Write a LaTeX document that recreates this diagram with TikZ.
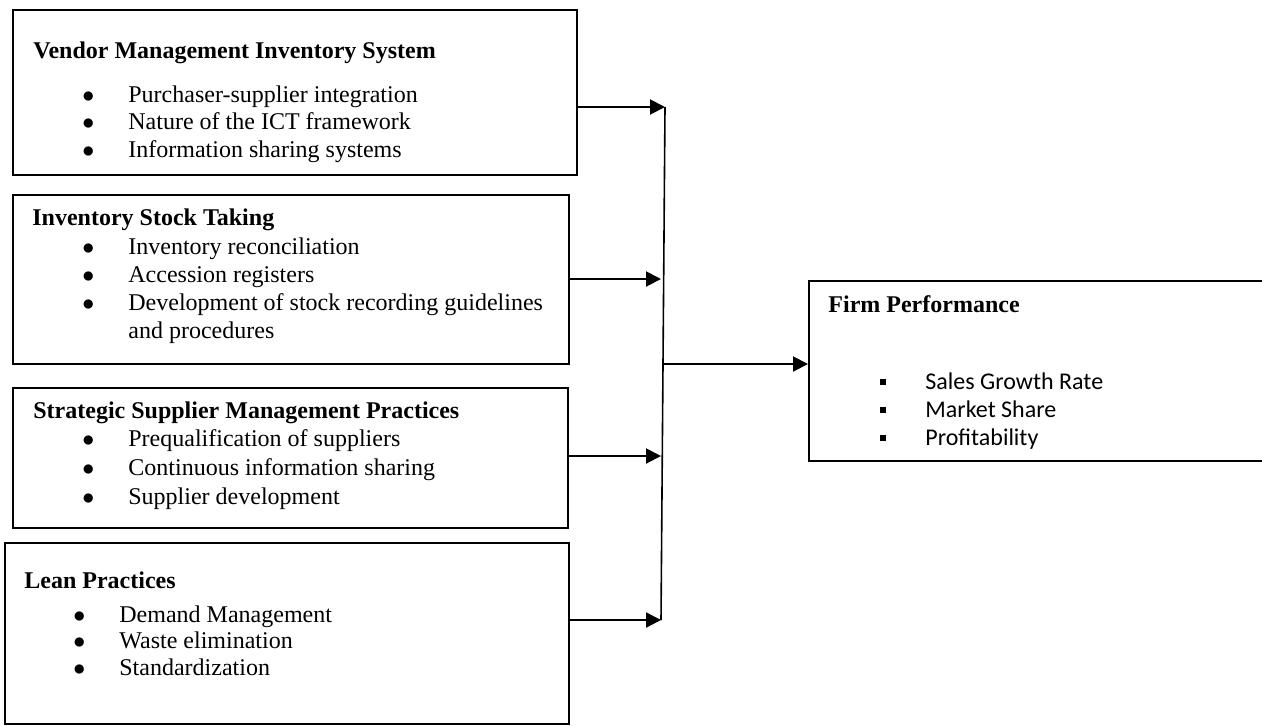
\documentclass[tikz,border=0pt]{standalone}
\usepackage{fontspec}
\setmainfont{Liberation Serif}
\newfontfamily\calibri{Carlito}
\usetikzlibrary{arrows.meta}

\newcommand{\bul}{\makebox[23pt][l]{$\bullet$}}
\newcommand{\sqbul}{\makebox[22.5pt][l]{\rule[2pt]{2.6pt}{3pt}}}

\begin{document}
\begin{tikzpicture}
     [
     x=0.5pt, y=-0.5pt,
     box/.style={rectangle, draw=black, line width=1pt, anchor=north west, inner sep=0pt},
     title/.style={anchor=base west, inner sep=0pt, font=\fontsize{12}{14}\selectfont\bfseries},
     item/.style={anchor=base west, inner sep=0pt, font=\fontsize{12}{14}\selectfont},
     fitem/.style={anchor=base west, inner sep=0pt, font=\fontsize{12}{14}\selectfont\calibri},
     link/.style={line width=1pt, -{Triangle[length=7.5pt,width=7.5pt]}},
     bus/.style={line width=0.8pt},
     ]
 \useasboundingbox (0,0) rectangle (1262,725);
 % boxes
 \node[box, minimum width=282pt, minimum height=82.5pt] at (12,9) (vms) {};
 \node[box, minimum width=278pt, minimum height=84.5pt] at (12,194) (ist) {};
 \node[box, minimum width=277.5pt, minimum height=70pt] at (12,387) (ssm) {};
 \node[box, minimum width=282pt, minimum height=90.5pt] at (4,542) (lean) {};
 \node[box, minimum width=229pt, minimum height=90pt] at (808,280) (firm) {};

 % vendor management inventory system
 \node[title] at (33,58) (vmst) {Vendor Management Inventory System};
 \foreach \t [count=\i] in {Purchaser-supplier integration, Nature of the ICT framework, Information sharing systems}
   \node[item] at (82,{102+27.5*(\i-1)}) (vms\i) {\bul\t};

 % inventory stock taking
 \node[title] at (32,225) (istt) {Inventory Stock Taking};
 \foreach \t [count=\i] in {Inventory reconciliation, Accession registers, Development of stock recording guidelines}
   \node[item] at (82,{254+28*(\i-1)}) (ist\i) {\bul\t};
 \node[item] at (128,338) (ist4) {and procedures};

 % strategic supplier management
 \node[title] at (33,418) (ssmt) {Strategic Supplier Management Practices};
 \foreach \t [count=\i] in {Prequalification of suppliers, Continuous information sharing, Supplier development}
   \node[item] at (82,{446+29*(\i-1)}) (ssm\i) {\bul\t};

 % lean practices
 \node[title] at (24,588) (leant) {Lean Practices};
 \foreach \t [count=\i] in {Demand Management, Waste elimination, Standardization}
   \node[item] at (73,{622+26.5*(\i-1)}) (lean\i) {\bul\t};

 % firm performance
 \node[title] at (828,312) (firmt) {Firm Performance};
 \begin{scope}
 \clip (808,280) rectangle (1262,449);
 \foreach \t [count=\i] in {Sales Growth Rate, Market Share, Profitability}
   \node[fitem] at (880,{389+28*(\i-1)}) (firm\i) {\sqbul\t};
 \end{scope}

 % connectors
 \coordinate (b1) at (665,107);
 \coordinate (b2) at (661,279);
 \coordinate (b3) at (661,456);
 \coordinate (b4) at (661,620);
 \coordinate (bm) at (663,364);
 \draw[bus] (b1) -- (b4);
 \draw[link] (vms.east |- b1) -- (b1);
 \draw[link] (ist.east |- b2) -- (b2);
 \draw[link] (ssm.east |- b3) -- (b3);
 \draw[link] (lean.east |- b4) -- (b4);
 \draw[link] (bm) -- (firm.west |- bm);
\end{tikzpicture}
\end{document}
